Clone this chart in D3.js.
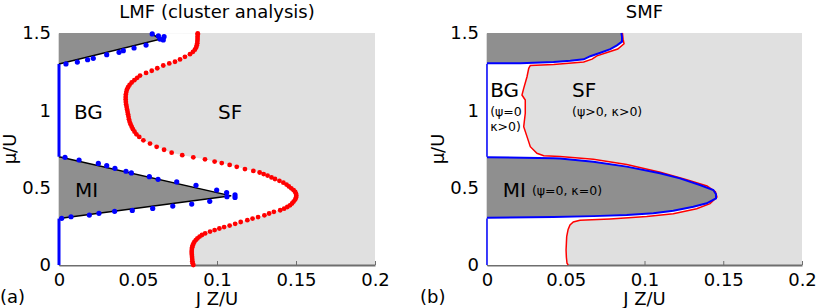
<!DOCTYPE html>
<html>
<head>
<meta charset="utf-8">
<script src="https://cdn.jsdelivr.net/npm/d3@7"></script>
<style>
  body { margin: 0; background: #fff; }
  svg { display: block; font-family: "DejaVu Sans", sans-serif; }
</style>
</head>
<body>
<svg width="817" height="308"></svg>
<script>
// ticks
const xTicks = [0, 0.05, 0.1, 0.15, 0.2];
const xTickLabels = ["0", "0.05", "0.1", "0.15", "0.2"];
const yTicks = [0, 0.5, 1, 1.5];
const yTickLabels = ["0", "0.5", "1", "1.5"];

// (a) LMF: SF boundary dots [J Z/U, mu/U]
const lmfSfDots = [
  [0.0850,0.000],[0.0846,0.012],[0.0844,0.025],[0.0843,0.038],[0.0842,0.052],[0.0841,0.065],
  [0.0840,0.078],[0.0840,0.090],[0.0841,0.103],[0.0843,0.115],[0.0846,0.126],[0.0851,0.138],
  [0.0857,0.150],[0.0866,0.161],[0.0876,0.172],[0.0890,0.184],[0.0905,0.194],[0.0925,0.204],
  [0.0956,0.216],[0.0985,0.226],[0.1015,0.236],[0.1045,0.245],[0.1080,0.255],[0.1115,0.266],
  [0.1150,0.278],[0.1192,0.290],[0.1225,0.300],[0.1260,0.310],[0.1300,0.321],[0.1330,0.333],
  [0.1360,0.344],[0.1400,0.354],[0.1425,0.364],[0.1445,0.375],[0.1462,0.386],[0.1475,0.398],
  [0.1485,0.410],[0.1495,0.423],[0.1500,0.436],[0.1502,0.448],[0.1500,0.460],[0.1495,0.472],
  [0.1485,0.484],[0.1470,0.496],[0.1455,0.508],[0.1440,0.520],[0.1420,0.532],[0.1395,0.544],
  [0.1367,0.556],[0.1345,0.566],[0.1320,0.578],[0.1295,0.588],[0.1270,0.598],[0.1230,0.608],
  [0.1177,0.620],[0.1125,0.635],[0.1080,0.647],[0.1030,0.659],[0.0985,0.669],[0.0924,0.683],
  [0.0850,0.696],[0.0780,0.710],[0.0713,0.726],[0.0665,0.745],[0.0618,0.764],[0.0576,0.785],
  [0.0534,0.806],[0.0508,0.828],[0.0490,0.845],[0.0478,0.862],[0.0468,0.878],[0.0460,0.894],
  [0.0453,0.910],[0.0447,0.926],[0.0443,0.942],[0.0440,0.958],[0.0437,0.974],[0.0434,0.990],
  [0.0431,1.006],[0.0428,1.022],[0.0425,1.038],[0.0423,1.054],[0.0422,1.070],[0.0422,1.086],
  [0.0423,1.102],[0.0426,1.118],[0.0430,1.134],[0.0437,1.150],[0.0447,1.165],[0.0460,1.180],
  [0.0477,1.195],[0.0495,1.210],[0.0513,1.225],[0.0551,1.242],[0.0587,1.256],[0.0622,1.272],
  [0.0660,1.290],[0.0698,1.303],[0.0734,1.314],[0.0766,1.329],[0.0797,1.346],[0.0829,1.363],
  [0.0848,1.378],[0.0860,1.392],[0.0868,1.406],[0.0872,1.420],[0.0875,1.434],[0.0876,1.448],
  [0.0877,1.462],[0.0877,1.476],[0.0878,1.490],[0.0878,1.498]
];
// (a) LMF: MI boundary dots
const lmfMiDots = [
  [0.0017,0.302],[0.0076,0.312],[0.0192,0.323],[0.0253,0.334],[0.0352,0.347],[0.0464,0.353],
  [0.0593,0.366],[0.0720,0.381],[0.0840,0.394],[0.0954,0.412],[0.1063,0.442],[0.1114,0.453],
  [0.1114,0.437],[0.1061,0.468],[0.0998,0.485],[0.0867,0.515],[0.0745,0.537],[0.0627,0.554],
  [0.0572,0.571],[0.0458,0.595],[0.0424,0.606],[0.0354,0.625],[0.0302,0.642],[0.0249,0.657],
  [0.0127,0.679],[0.0038,0.696]
];
// (a) LMF: upper lobe dots
const lmfTopDots = [
  [0.0044,1.300],[0.0116,1.312],[0.0181,1.327],[0.0217,1.336],[0.0302,1.360],[0.0380,1.375],
  [0.0407,1.386],[0.0475,1.403],[0.0551,1.422],[0.0590,1.494],[0.0629,1.481],[0.0639,1.461],
  [0.0665,1.476],[0.0660,1.455]
];
// (a) LMF: fitted lobes
const lmfMiLobe = [[0, 0.3], [0.109, 0.447], [0, 0.7]];
const lmfTopLobe = [[0, 1.3], [0.064, 1.46], [0.058, 1.5], [0, 1.5]];
// blue segments on J=0
const zeroSegments = [[0, 0.3], [0.7, 1.3]];

// (b) SMF: SF boundary (red)
const smfSfLine = [
  [0.0516,0.000],[0.0508,0.011],[0.0504,0.050],[0.0502,0.097],[0.0504,0.140],[0.0506,0.183],
  [0.0515,0.230],[0.0527,0.259],[0.0548,0.278],[0.0590,0.289],[0.0781,0.298],[0.1014,0.313],
  [0.1183,0.331],[0.1331,0.364],[0.1416,0.397],[0.1460,0.440],[0.1450,0.474],[0.1397,0.511],
  [0.1268,0.552],[0.1100,0.600],[0.0887,0.650],[0.0675,0.683],[0.0463,0.701],[0.0360,0.707],
  [0.0317,0.722],[0.0275,0.765],[0.0254,0.830],[0.0233,0.894],[0.0243,0.981],[0.0243,1.067],
  [0.0222,1.099],[0.0233,1.142],[0.0254,1.217],[0.0265,1.272],[0.0275,1.290],[0.0423,1.296],
  [0.0614,1.312],[0.0667,1.331],[0.0698,1.352],[0.0762,1.374],[0.0830,1.396],[0.0870,1.430],
  [0.0864,1.460],[0.0860,1.500]
];
// (b) SMF: MI boundary (blue)
const smfMiLine = [
  [0,0.305],[0.0423,0.311],[0.0675,0.316],[0.0887,0.323],[0.1056,0.334],[0.1183,0.351],
  [0.1310,0.377],[0.1395,0.399],[0.1454,0.431],[0.1454,0.457],[0.1437,0.485],[0.1352,0.517],
  [0.1225,0.560],[0.1098,0.593],[0.0887,0.636],[0.0675,0.668],[0.0463,0.688],[0.0423,0.690],
  [0,0.697]
];
// (b) SMF: upper lobe boundary (blue)
const smfTopLine = [
  [0,1.304],[0.0212,1.305],[0.0423,1.313],[0.0529,1.320],[0.0614,1.330],[0.0656,1.350],
  [0.0720,1.372],[0.0783,1.396],[0.0825,1.420],[0.0857,1.444],[0.0857,1.476],[0.0853,1.500]
];

const svg = d3.select("svg");
const top0 = 33, bottom0 = 265;
const lightGray = "#e0e0e0", darkGray = "#8f8f8f", axisGray = "#6e6e6e";

function drawPanel(left, right, title, tag, tagX) {
  const x = d3.scaleLinear().domain([0, 0.2]).range([left, right]);
  const y = d3.scaleLinear().domain([0, 1.5]).range([bottom0, top0]);
  const g = svg.append("g");
  const line = d3.line().x(d => x(d[0])).y(d => y(d[1]));

  // SF background
  g.append("rect")
    .attr("x", x(0)).attr("y", y(1.5))
    .attr("width", x(0.2) - x(0)).attr("height", y(0) - y(1.5))
    .attr("fill", lightGray);

  // axes
  g.append("g")
    .attr("transform", `translate(0,${y(0)})`)
    .call(d3.axisBottom(x).tickValues(xTicks).tickSizeInner(-4).tickSizeOuter(0)
      .tickPadding(8).tickFormat((d, i) => xTickLabels[i]))
    .call(a => a.select(".domain").attr("stroke", axisGray).attr("stroke-width", 2));
  g.append("g")
    .attr("transform", `translate(${x(0)},0)`)
    .call(d3.axisLeft(y).tickValues(yTicks).tickSizeInner(-4).tickSizeOuter(0)
      .tickPadding(8).tickFormat((d, i) => yTickLabels[i]))
    .call(a => a.select(".domain").attr("stroke", axisGray).attr("stroke-width", 1.5));
  g.selectAll(".tick line").attr("stroke", axisGray);
  g.selectAll(".tick text").attr("font-size", 18).attr("font-family", "DejaVu Sans").attr("fill", "#000");

  // title, axis labels
  g.append("text").attr("x", (x(0) + x(0.2)) / 2).attr("y", 18)
    .attr("text-anchor", "middle").attr("font-size", 18).text(title);
  g.append("text").attr("x", (x(0) + x(0.2)) / 2).attr("y", 305)
    .attr("text-anchor", "middle").attr("font-size", 18).text("J Z/U");
  g.append("text").attr("transform", `translate(${x(0) - 43},${(y(0) + y(1.5)) / 2}) rotate(-90)`)
    .attr("text-anchor", "middle").attr("font-size", 18).text("μ/U");
  g.append("text").attr("x", tagX).attr("y", 303).attr("font-size", 18).text(tag);

  return { g, x, y, line };
}

// ---- panel (a)
{
  const { g, x, y, line } = drawPanel(59, 375, "LMF (cluster analysis)", "(a)", 0);
  const white = [[0, 0], ...lmfSfDots, [0, 1.5]];
  g.append("path").attr("d", line(white) + "Z").attr("fill", "#fff");
  g.append("path").attr("d", line(lmfMiLobe) + "Z").attr("fill", darkGray);
  g.append("path").attr("d", line(lmfTopLobe) + "Z").attr("fill", darkGray);
  g.append("path").attr("d", line(lmfMiLobe)).attr("fill", "none").attr("stroke", "#000").attr("stroke-width", 1.5);
  g.append("path").attr("d", line(lmfTopLobe.slice(0, 3))).attr("fill", "none").attr("stroke", "#000").attr("stroke-width", 1.5);
  g.selectAll(".zero").data(zeroSegments).join("line")
    .attr("x1", x(0)).attr("x2", x(0))
    .attr("y1", d => y(d[0])).attr("y2", d => y(d[1]))
    .attr("stroke", "#0000ff").attr("stroke-width", 3);
  g.selectAll(".bd").data(lmfMiDots.concat(lmfTopDots)).join("circle")
    .attr("cx", d => x(d[0])).attr("cy", d => y(d[1])).attr("r", 2.6).attr("fill", "#0000ff");
  g.selectAll(".rd").data(lmfSfDots).join("circle")
    .attr("cx", d => x(d[0])).attr("cy", d => y(d[1])).attr("r", 2.4).attr("fill", "#ff0000");
  const lab = (t, jx, my) => g.append("text").attr("x", x(jx)).attr("y", y(my)).attr("font-size", 20).text(t);
  lab("BG", 0.0095, 0.944);
  lab("SF", 0.1006, 0.944);
  lab("MI", 0.0101, 0.440);
}

// ---- panel (b)
{
  const { g, x, y, line } = drawPanel(487, 802, "SMF", "(b)", 420);
  const white = [[0, 0], ...smfSfLine, [0, 1.5]];
  g.append("path").attr("d", line(white) + "Z").attr("fill", "#fff");
  g.append("path").attr("d", line(smfMiLine) + "Z").attr("fill", darkGray);
  g.append("path").attr("d", line([...smfTopLine, [0, 1.5]]) + "Z").attr("fill", darkGray);
  g.append("path").attr("d", line(smfSfLine)).attr("fill", "none").attr("stroke", "#ff0000").attr("stroke-width", 1.5);
  g.selectAll(".zero").data(zeroSegments).join("line")
    .attr("x1", x(0)).attr("x2", x(0))
    .attr("y1", d => y(d[0])).attr("y2", d => y(d[1]))
    .attr("stroke", "#0000ff").attr("stroke-width", 1.5);
  [smfMiLine, smfTopLine].forEach(c =>
    g.append("path").attr("d", line(c)).attr("fill", "none").attr("stroke", "#0000ff").attr("stroke-width", 2));
  const lab = (t, jx, my, fs) => g.append("text").attr("x", x(jx)).attr("y", y(my)).attr("font-size", fs).text(t);
  lab("BG", 0.002, 1.086, 20);
  lab("(ψ=0", 0.002, 0.963, 12.5);
  lab("κ>0)", 0.002, 0.866, 12.5);
  lab("SF", 0.054, 1.086, 20);
  lab("(ψ>0, κ>0)", 0.054, 0.963, 12.5);
  lab("MI", 0.010, 0.440, 20);
  lab("(ψ=0, κ=0)", 0.0285, 0.452, 12.5);
}
</script>
</body>
</html>
